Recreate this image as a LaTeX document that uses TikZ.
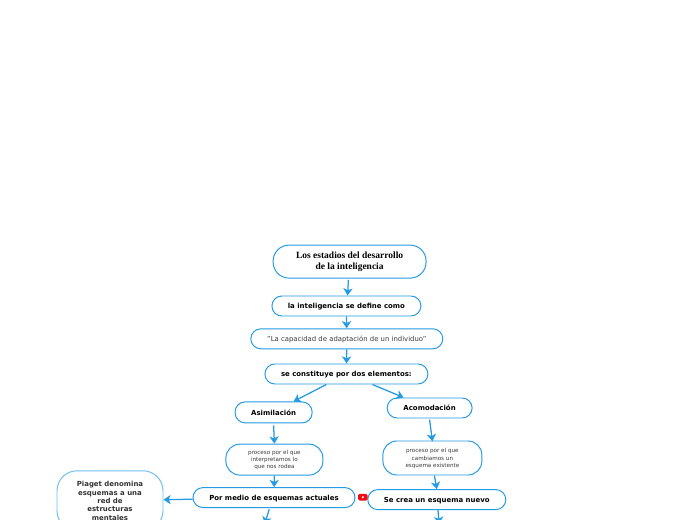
\documentclass[tikz,border=0pt]{standalone}
\usepackage{fontspec}
\setmainfont{DejaVu Sans}
\newfontfamily\titlefont{Liberation Serif}
\usetikzlibrary{arrows.meta, positioning, calc}
\definecolor{mapblue}{RGB}{36,155,228}
\definecolor{lightblue}{RGB}{110,190,240}
\definecolor{bodygray}{RGB}{60,60,60}
\definecolor{playred}{RGB}{240,10,20}

\begin{document}
\begin{tikzpicture}[
    concept/.style={draw=mapblue, fill=white, line width=0.7pt, rounded corners=2.5mm, inner sep=0, align=center, text=black},
    boldtext/.style={font=\fontsize{4.95}{6}\selectfont\bfseries, text depth=0pt},
    smalltext/.style={font=\fontsize{4}{5.1}\selectfont, text=bodygray, text depth=0pt},
    link/.style={-{Stealth[length=1.8mm, width=2.3mm, inset=0.5mm]}, mapblue, line width=0.9pt}
]
  \useasboundingbox (0,0) rectangle (17.4,-13);
  \clip (0,0) rectangle (17.4,-13);

  % Trunk
  \node[concept, minimum width=3.825cm, minimum height=0.825cm, rounded corners=4mm, font=\titlefont\fontsize{6.75}{7.4}\selectfont\bfseries] (Title) at (8.74,-6.54) {Los estadios del desarrollo\\de la inteligencia};
  \node[concept, boldtext, minimum width=3.725cm, minimum height=0.5cm] (Define) at (8.66,-7.65) {la inteligencia se define como};
  \node[concept, font=\fontsize{4.9}{6}\selectfont, minimum width=4.8cm, minimum height=0.5cm, text=bodygray, text depth=0pt] (Quote) at (8.67,-8.47) {"La capacidad de adaptación de un individuo"};
  \node[concept, boldtext, minimum width=4.075cm, minimum height=0.5cm] (Elements) at (8.66,-9.35) {se constituye por dos elementos:};

  % Left branch
  \node[concept, boldtext, minimum width=1.925cm, minimum height=0.525cm] (Asim) at (6.84,-10.31) {Asimilación};
  \node[concept, smalltext, minimum width=2.425cm, minimum height=0.775cm, rounded corners=3.5mm] (AsimText) at (6.86,-11.49) {proceso por el que\\interpretamos lo\\que nos rodea};
  \node[concept, boldtext, minimum width=4.05cm, minimum height=0.5cm] (Current) at (6.85,-12.44) {Por medio de esquemas actuales};
  \node[concept, boldtext, draw=lightblue, minimum width=2.65cm, minimum height=1.5cm, rounded corners=5mm, text=black!80] (Piaget) at (2.75,-12.52) {Piaget denomina\\esquemas a una\\red de\\estructuras\\mentales};

  % Right branch
  \node[concept, boldtext, minimum width=2.125cm, minimum height=0.5cm] (Acom) at (10.74,-10.2) {Acomodación};
  \node[concept, smalltext, minimum width=2.475cm, minimum height=0.85cm, rounded corners=3.5mm] (AcomText) at (10.81,-11.45) {proceso por el que\\cambiamos un\\esquema existente};
  \node[concept, boldtext, minimum width=3.45cm, minimum height=0.5cm] (New) at (10.92,-12.49) {Se crea un esquema nuevo};

  % Video mark
  \node[fill=playred, rounded corners=0.4mm, minimum width=2.4mm, minimum height=1.7mm, inner sep=0] (Play) at (9.07,-12.43) {};
  \node[fill=white, circle, minimum size=0.6mm, inner sep=0] (PlayDot) at (Play.center) {};

  % Open ends below the page
  \coordinate (CurrentEnd) at (6.62,-13.1);
  \coordinate (NewEnd) at (10.98,-13.1);

  % Connections
  \draw[link] ($(Title.south)+(-0.03,-0.03)$) -- ($(Define.north)+(0.03,0)$);
  \draw[link] (Define) -- (Quote);
  \draw[link] (Quote) -- (Elements);
  \draw[link] ($(Elements.south)+(-0.5,0)$) -- ($(Asim.north)+(0.5,0)$);
  \draw[link] ($(Elements.south)+(0.65,0)$) -- ($(Acom.north)+(-0.65,0)$);
  \draw[link] ($(Asim.south)+(0,-0.05)$) -- (AsimText.north);
  \draw[link] (AsimText) -- (Current);
  \draw[link] (Current) -- (Piaget);
  \draw[link] ($(Acom.south)+(0,-0.03)$) -- ($(AcomText.north)+(0,-0.02)$);
  \draw[link] ($(AcomText.south)+(0.05,0)$) -- (New.north);
  \draw[link] ($(Current.south)+(-0.12,-0.03)$) -- (CurrentEnd);
  \draw[link] ($(New.south)+(0.03,0)$) -- (NewEnd);
\end{tikzpicture}
\end{document}
